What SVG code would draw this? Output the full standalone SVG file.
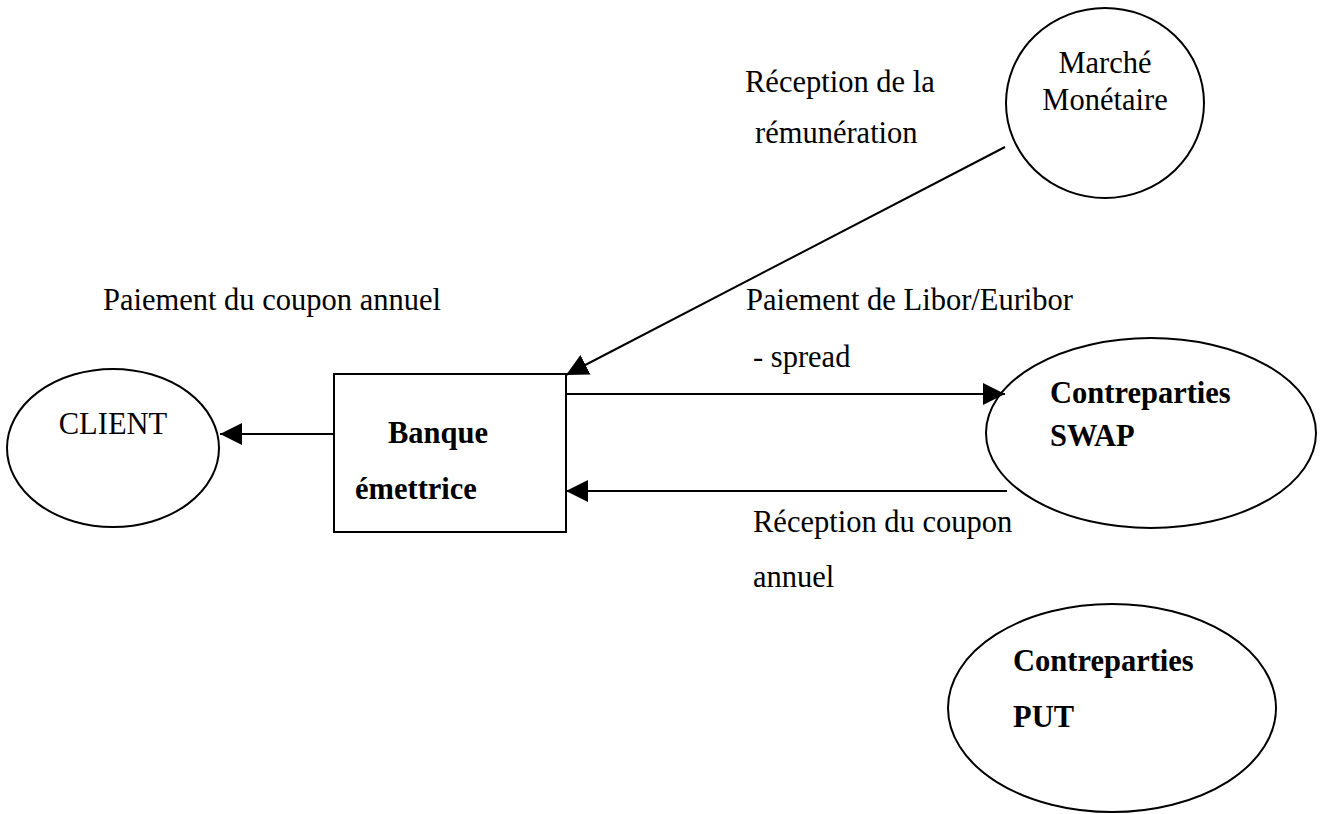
<svg xmlns="http://www.w3.org/2000/svg" width="1322" height="814" viewBox="0 0 1322 814">
<style>
.shape{fill:#fff;stroke:#000;stroke-width:2}
.t{font-family:"Liberation Serif","Times New Roman",serif;font-size:30.5px;fill:#000}
.b{font-weight:bold}
.edge{stroke:#000;stroke-width:2;fill:none}
</style>
<defs>
<marker id="ah" markerUnits="userSpaceOnUse" markerWidth="22" markerHeight="22" viewBox="0 0 20 20" refX="20" refY="10" orient="auto">
<path d="M0,0 L20,10 L0,20 Z" fill="#000"/>
</marker>
</defs>
<rect width="1322" height="814" fill="#fff"/>
<g id="client">
<ellipse class="shape" cx="113" cy="448" rx="106" ry="79"/>
<text class="t" x="113" y="434" text-anchor="middle">CLIENT</text>
</g>
<g id="banque">
<rect class="shape" x="334" y="374" width="232" height="158"/>
<text class="t b" x="388" y="443">Banque</text>
<text class="t b" x="355" y="499">émettrice</text>
</g>
<g id="marche">
<ellipse class="shape" cx="1105" cy="103" rx="99" ry="95"/>
<text class="t" x="1105" y="73" text-anchor="middle">Marché</text>
<text class="t" x="1105" y="110" text-anchor="middle">Monétaire</text>
</g>
<g id="swap">
<ellipse class="shape" cx="1151" cy="433" rx="165" ry="95"/>
<text class="t b" x="1050" y="403">Contreparties</text>
<text class="t b" x="1050" y="446">SWAP</text>
</g>
<g id="put">
<ellipse class="shape" cx="1112" cy="708" rx="164" ry="104"/>
<text class="t b" x="1013" y="671">Contreparties</text>
<text class="t b" x="1013" y="727">PUT</text>
</g>
<g id="connectors">
<line class="edge" x1="334" y1="434" x2="220" y2="434" marker-end="url(#ah)"/>
<line class="edge" x1="1005" y1="147" x2="566" y2="375" marker-end="url(#ah)"/>
<line class="edge" x1="566" y1="394" x2="1005" y2="394" marker-end="url(#ah)"/>
<line class="edge" x1="1007" y1="491" x2="566" y2="491" marker-end="url(#ah)"/>
</g>
<g id="labels">
<text class="t" x="103" y="310">Paiement du coupon annuel</text>
<text class="t" x="745" y="92">Réception de la</text>
<text class="t" x="755" y="143">rémunération</text>
<text class="t" x="746" y="310">Paiement de Libor/Euribor</text>
<text class="t" x="753" y="367">- spread</text>
<text class="t" x="753" y="532">Réception du coupon</text>
<text class="t" x="753" y="587">annuel</text>
</g>
</svg>
